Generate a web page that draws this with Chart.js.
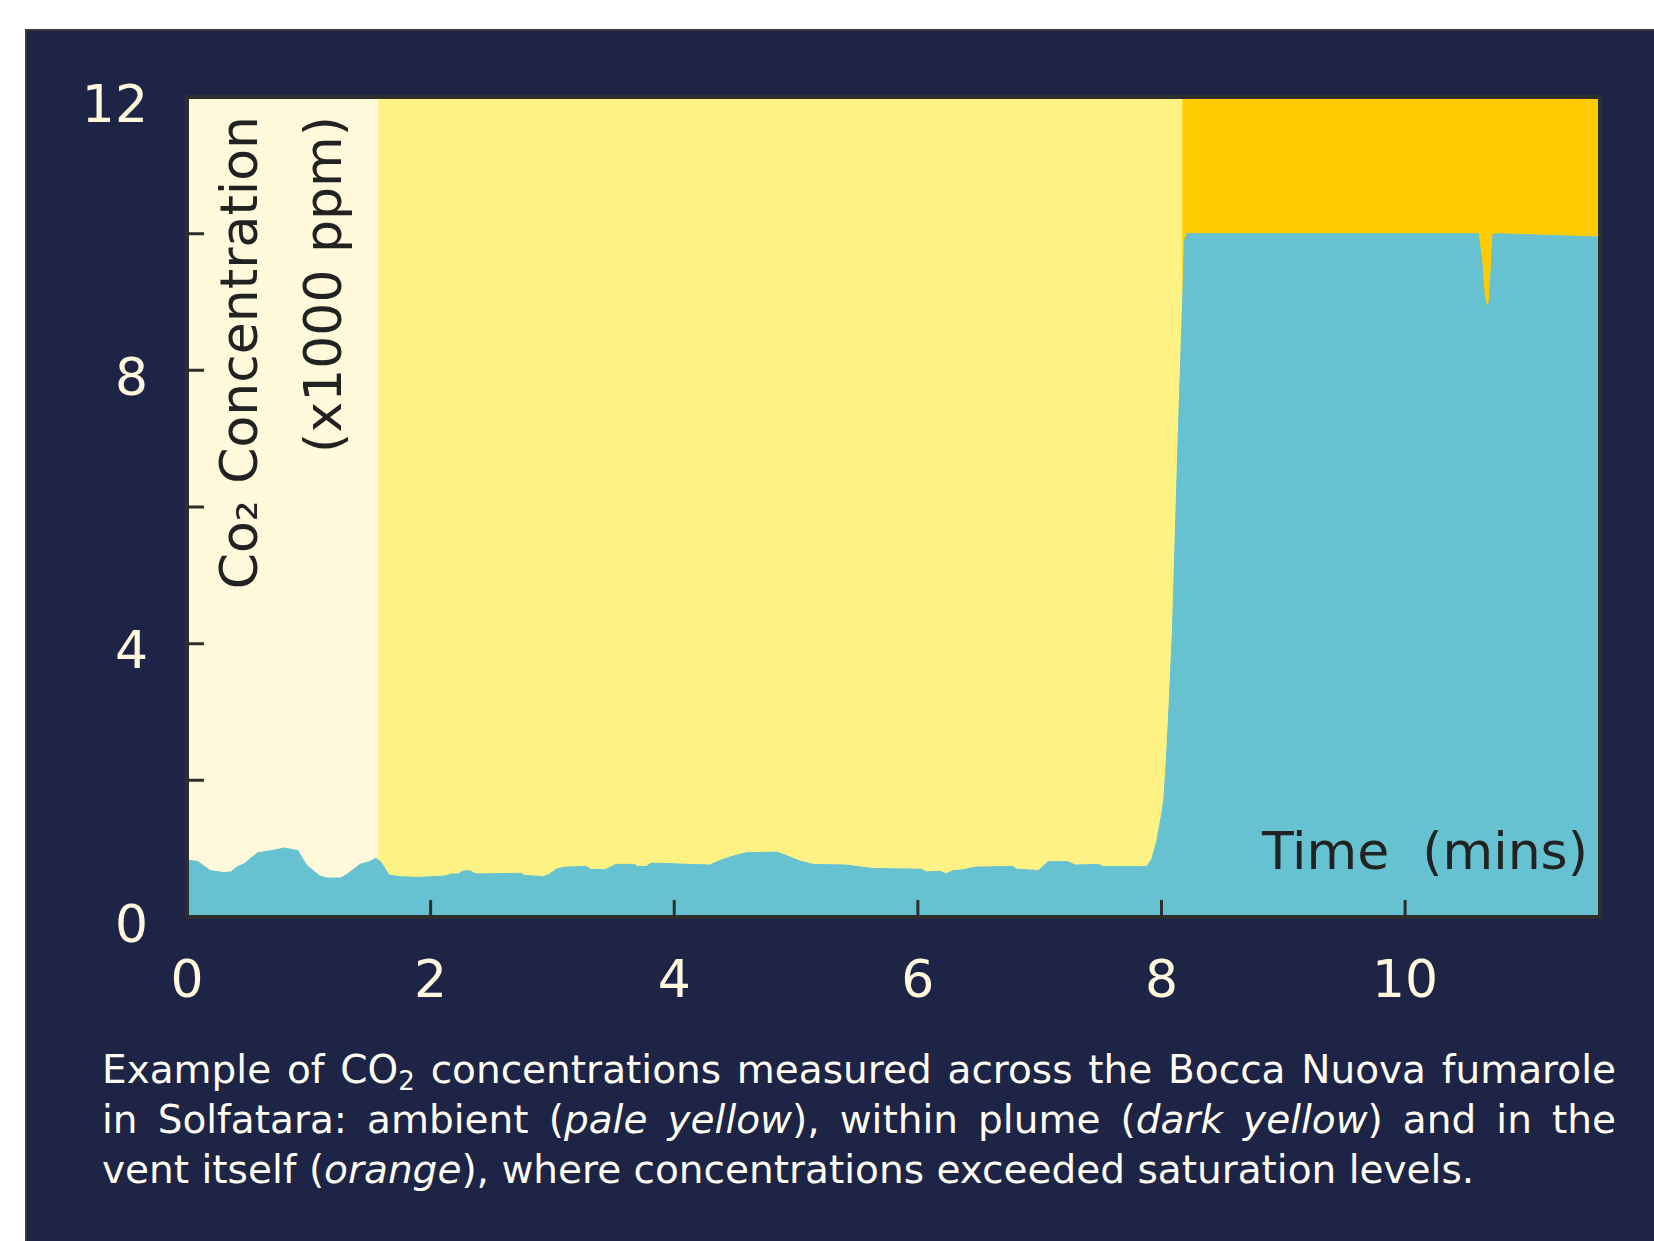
<!DOCTYPE html>
<html>
<head>
<meta charset="utf-8">
<script src="https://cdn.jsdelivr.net/npm/chart.js@4.4.1/dist/chart.umd.min.js"></script>
<style>
  html, body { margin: 0; padding: 0; background: #fff; }
  body { width: 1654px; height: 1241px; position: relative; overflow: hidden; }
  #panel {
    position: absolute; left: 25px; top: 29px; right: 0; bottom: 0;
    background: #1d2445; border-left: 2px solid #3a3a3a; border-top: 2px solid #3a3a3a;
  }
  #chart { position: absolute; left: 0; top: 0; }
  #caption {
    position: absolute; left: 102px; top: 1045px; width: 1514px;
    font-family: "DejaVu Sans", sans-serif; font-size: 39px; line-height: 50px;
    color: #fffdf2;
  }
  #caption div { white-space: nowrap; }
  #caption .just { text-align: justify; text-align-last: justify; }
  #caption sub { font-size: 26px; line-height: 0; vertical-align: -7px; }
</style>
</head>
<body>
<div id="panel"></div>
<canvas id="chart" width="1654" height="1040"></canvas>
<div id="caption">
  <div class="just">Example of CO<sub>2</sub> concentrations measured across the Bocca Nuova fumarole</div>
  <div class="just">in Solfatara: ambient (<i>pale yellow</i>), within plume (<i>dark yellow</i>) and in the</div>
  <div>vent itself (<i>orange</i>), where concentrations exceeded saturation levels.</div>
</div>
<script>
// time in minutes, CO2 in x1000 ppm
const times = [0, 0.085, 0.19, 0.30, 0.36, 0.41, 0.47, 0.58, 0.69, 0.80,
    0.91, 0.98, 1.09, 1.15, 1.26, 1.31, 1.42, 1.50, 1.55, 1.59,
    1.66, 1.75, 1.90, 2.01, 2.12, 2.17, 2.23, 2.26, 2.32, 2.37,
    2.74, 2.77, 2.85, 2.92, 2.97, 3.03, 3.10, 3.28, 3.31, 3.43,
    3.52, 3.67, 3.70, 3.77, 3.81, 4.29, 4.38, 4.48, 4.59, 4.84,
    4.92, 5.03, 5.14, 5.41, 5.63, 6.03, 6.07, 6.18, 6.23, 6.29,
    6.37, 6.47, 6.78, 6.81, 6.99, 7.07, 7.23, 7.29, 7.48, 7.52,
    7.88, 7.92, 7.96, 8.00, 8.02, 8.04, 8.06, 8.09, 8.14, 8.19,
    8.21, 10.60, 10.63, 10.65, 10.67, 10.69, 10.71, 10.72, 10.74, 11.60];
const co2 = [0.83, 0.815, 0.68, 0.65, 0.66, 0.73, 0.78, 0.94, 0.97, 1.01,
    0.97, 0.76, 0.60, 0.57, 0.57, 0.62, 0.77, 0.81, 0.86, 0.81,
    0.61, 0.59, 0.58, 0.59, 0.60, 0.63, 0.63, 0.67, 0.68, 0.63,
    0.64, 0.61, 0.60, 0.59, 0.62, 0.70, 0.73, 0.74, 0.70, 0.69,
    0.77, 0.77, 0.74, 0.74, 0.79, 0.76, 0.83, 0.89, 0.94, 0.95,
    0.90, 0.82, 0.77, 0.76, 0.71, 0.70, 0.66, 0.67, 0.63, 0.68,
    0.69, 0.73, 0.74, 0.70, 0.68, 0.81, 0.81, 0.76, 0.77, 0.74,
    0.74, 0.85, 1.10, 1.49, 1.73, 2.3, 3.0, 4.2, 7.2, 9.9,
    10.0, 10.0, 9.6, 9.1, 8.92, 9.0, 9.6, 9.98, 10.0, 9.95];

// zones: ambient, within plume, vent
const zoneNames = ['ambient', 'plume', 'vent'];
const zoneStart = [0, 1.57, 8.17];
const zoneEnd = [1.57, 8.17, 11.6];
const zoneColors = ['#fff9dc', '#fff285', '#ffcc03'];

const xMax = 11.6;
const yMax = 12;
const tickFont = { family: 'DejaVu Sans', size: 52 };
const tickColor = '#fff8dc';

const framePlugin = {
    id: 'frame',
    beforeDatasetsDraw(chart) {
        // base under the zone fills so the seams between them don't show the navy
        const { ctx, chartArea: a } = chart;
        ctx.save();
        ctx.fillStyle = zoneColors[1];
        ctx.fillRect(a.left, a.top, a.right - a.left, a.bottom - a.top);
        ctx.restore();
    },
    afterDatasetsDraw(chart) {
        const { ctx, chartArea: a, scales: { x, y } } = chart;
        ctx.save();
        ctx.strokeStyle = '#2e2e2e';
        ctx.lineWidth = 3;
        ctx.beginPath();
        x.ticks.forEach(t => {
            if (t.value <= 0 || t.value >= xMax) return;
            const px = x.getPixelForValue(t.value);
            ctx.moveTo(px, a.bottom);
            ctx.lineTo(px, a.bottom - 17);
        });
        y.ticks.forEach(t => {
            if (t.value <= 0 || t.value >= yMax) return;
            const py = y.getPixelForValue(t.value);
            ctx.moveTo(a.left, py);
            ctx.lineTo(a.left + 17, py);
        });
        ctx.stroke();
        ctx.lineWidth = 4;
        ctx.strokeRect(a.left, a.top, a.right - a.left, a.bottom - a.top);

        // axis titles sit inside the plot
        ctx.fillStyle = '#222';
        ctx.font = '52px "DejaVu Sans"';
        ctx.textAlign = 'right';
        ctx.textBaseline = 'middle';
        ctx.save();
        ctx.translate(a.left + 56, a.top + 19);
        ctx.rotate(-Math.PI / 2);
        ctx.fillText('Co\u2082 Concentration', 0, 0);
        ctx.restore();
        ctx.save();
        ctx.translate(a.left + 140, a.top + 19);
        ctx.rotate(-Math.PI / 2);
        ctx.fillText('(x1000 ppm)', 0, 0);
        ctx.restore();
        ctx.textBaseline = 'alphabetic';
        ctx.fillText('Time  (mins)', a.right - 12, a.bottom - 48);
        ctx.restore();
    }
};

const datasets = [{
    label: 'CO2',
    data: times.map((t, i) => ({ x: t, y: co2[i] })),
    fill: 'origin',
    backgroundColor: '#66c2d0',
    borderColor: '#66c2d0',
    borderWidth: 1,
    pointRadius: 0,
    tension: 0
}];
zoneNames.forEach((name, i) => {
    datasets.push({
        label: name,
        data: [{ x: zoneStart[i], y: yMax }, { x: zoneEnd[i], y: yMax }],
        fill: 'origin',
        backgroundColor: zoneColors[i],
        borderWidth: 0,
        pointRadius: 0
    });
});

new Chart(document.getElementById('chart'), {
    type: 'line',
    data: { datasets: datasets },
    options: {
        responsive: false,
        animation: false,
        layout: { padding: { left: 0, top: 97, right: 54, bottom: 0 } },
        plugins: { legend: { display: false }, tooltip: { enabled: false } },
        scales: {
            x: {
                type: 'linear',
                min: 0,
                max: xMax,
                afterFit: s => { s.height = 123; },
                grid: { display: false, drawTicks: false },
                border: { display: false },
                ticks: { stepSize: 2, includeBounds: false, font: tickFont, color: tickColor, padding: 35, maxRotation: 0 }
            },
            y: {
                min: 0,
                max: yMax,
                afterFit: s => { s.width = 187; },
                grid: { display: false, drawTicks: false },
                border: { display: false },
                ticks: {
                    stepSize: 2,
                    font: tickFont,
                    color: tickColor,
                    padding: 39,
                    labelOffset: 11,
                    callback: v => (v % 4 === 0 ? v : '')
                }
            }
        }
    },
    plugins: [framePlugin]
});
</script>
</body>
</html>
